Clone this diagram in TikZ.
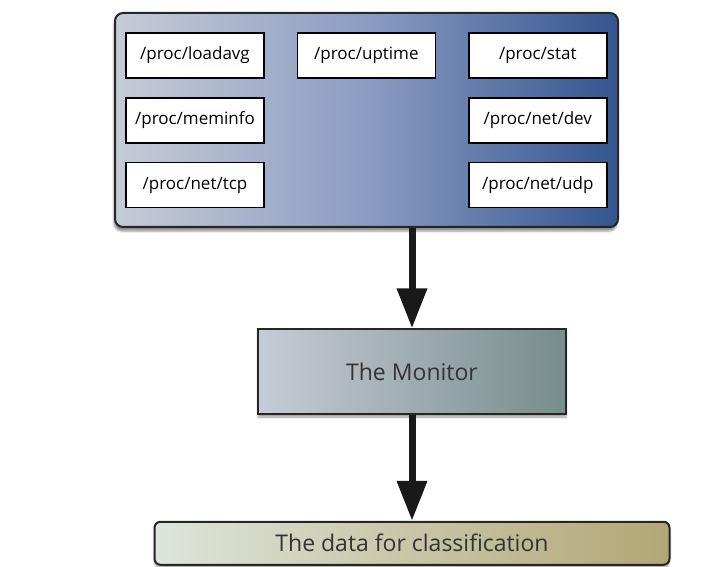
\documentclass[tikz,border=0pt]{standalone}
\usepackage{fontspec}
\setmainfont{Open Sans}
\usepackage{tikz}
\usetikzlibrary{arrows.meta, positioning, shadows.blur}

\definecolor{panelleft}{HTML}{C6CBD7}
\definecolor{panelmid}{HTML}{8B9CC3}
\definecolor{panelright}{HTML}{34558F}
\definecolor{monleft}{HTML}{C7CCD6}
\definecolor{monright}{HTML}{768D8A}
\definecolor{dataleft}{HTML}{DDE5DA}
\definecolor{dataright}{HTML}{B3A674}
\definecolor{labeltext}{HTML}{333333}

\begin{document}
\begin{tikzpicture}[
    x=1pt, y=-1pt,
    panel/.style={rectangle, rounded corners=8pt, draw=black!85, line width=2pt, left color=panelleft, right color=panelright, middle color=panelmid, minimum width=503pt, minimum height=214pt, blur shadow={shadow xshift=-1pt, shadow yshift=-4pt, shadow opacity=45}},
    procfile/.style={rectangle, draw=black, line width=1.4pt, fill=white, minimum width=138pt, minimum height=45pt, inner sep=0pt, font=\fontsize{17}{20}\selectfont},
    monitor/.style={rectangle, draw=black!85, line width=1.5pt, left color=monleft, right color=monright, minimum width=308pt, minimum height=85pt, text=labeltext, font=\fontsize{23}{26}\selectfont, blur shadow={shadow xshift=0pt, shadow yshift=-3pt, shadow opacity=40}},
    result/.style={rectangle, rounded corners=6pt, draw=black!85, line width=2pt, left color=dataleft, right color=dataright, minimum width=515pt, minimum height=43pt, text=labeltext, font=\fontsize{23}{26}\selectfont, blur shadow={shadow xshift=0pt, shadow yshift=-3pt, shadow opacity=35}},
    arrow/.style={-{Triangle[width=29pt, length=40pt]}, line width=7pt, draw=black!90},
    node distance=18.5pt and 32pt
]
\useasboundingbox (0,0) rectangle (713,567);

\node[panel] (panel) at (366.5,120) {};

% files in /proc
\node[procfile] (loadavg) at (195,55.5) {/proc/loadavg};
\node[procfile, right=of loadavg] (uptime) {/proc/uptime};
\node[procfile, right=of uptime] (stat) {/proc/stat};
\node[procfile, below=of loadavg] (meminfo) {/proc/meminfo};
\node[procfile, below=of stat] (netdev) {/proc/net/dev};
\node[procfile, below=of meminfo] (nettcp) {/proc/net/tcp};
\node[procfile, below=of netdev] (netudp) {/proc/net/udp};

\node[monitor] (mon) at (412,371.5) {The Monitor};
\node[result, below=106pt of mon] (data) {The data for classification};

% Arrows
\draw[arrow] (mon.north |- panel.south) -- (mon.north);
\draw[arrow] (mon.south) -- (data.north -| mon.south);

\end{tikzpicture}
\end{document}
